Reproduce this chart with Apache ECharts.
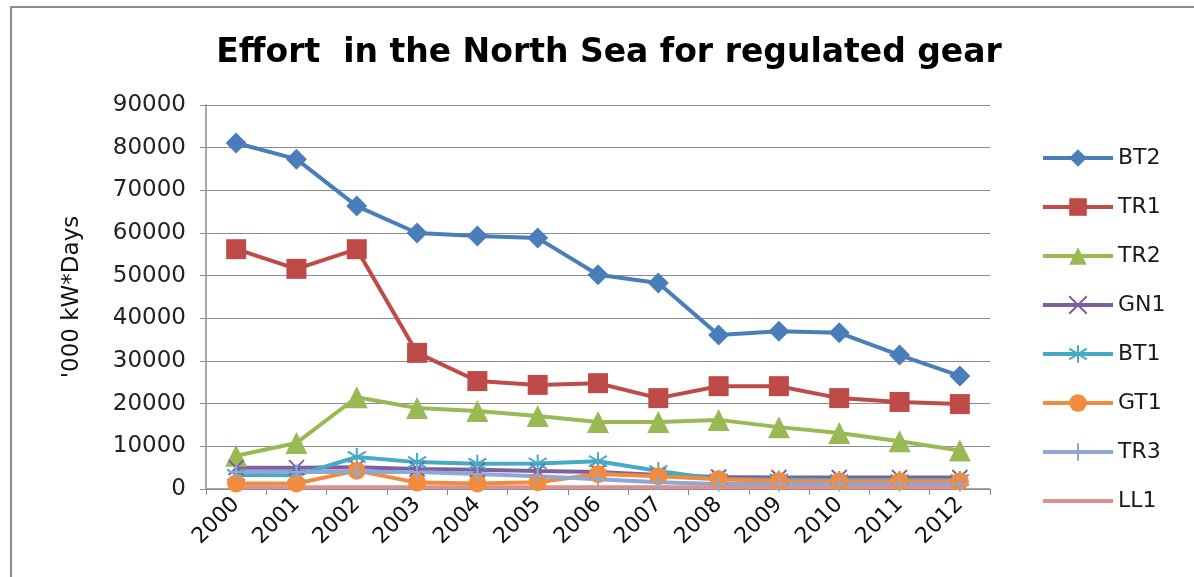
<!DOCTYPE html>
<html>
<head>
<meta charset="utf-8">
<script src="https://cdn.jsdelivr.net/npm/echarts@6/dist/echarts.min.js"></script>
<style>
  html, body { margin: 0; padding: 0; background: #fff; }
  #chart { width: 1194px; height: 577px; }
</style>
</head>
<body>
<div id="chart"></div>
<script>
// Fishing effort by gear group, North Sea ('000 kW*Days)
const years = ['2000','2001','2002','2003','2004','2005','2006','2007','2008','2009','2010','2011','2012'];
const BT2 = [81100, 77300, 66300, 60000, 59300, 58800, 50200, 48300, 36100, 37000, 36600, 31400, 26500];
const TR1 = [56200, 51600, 56200, 31900, 25300, 24400, 24800, 21300, 24100, 24100, 21300, 20400, 19900];
const TR2 = [7800, 10800, 21500, 19000, 18300, 17100, 15700, 15700, 16200, 14500, 13100, 11200, 9000];
const GN1 = [5000, 5000, 5100, 4700, 4500, 4200, 4000, 3300, 2800, 2700, 2700, 2700, 2700];
const BT1 = [3300, 3200, 7500, 6300, 5900, 6000, 6500, 4200, 2300, 2200, 2100, 2100, 2100];
const GT1 = [1300, 1300, 4300, 1500, 1300, 1600, 3500, 3000, 2300, 1900, 1800, 1800, 1800];
const TR3 = [4000, 4000, 4000, 4000, 3500, 3000, 2300, 1600, 1200, 1200, 1200, 1200, 1200];
const LL1 = [400, 400, 400, 400, 400, 400, 400, 400, 400, 400, 400, 400, 400];
const yTicks = { min: 0, max: 90000, interval: 10000 };

const crossPath = 'path://M0,0L10,10M10,0L0,10';
const starPath = 'path://M5,0L5,10M0,2L10,8M10,2L0,8';
const plusPath = 'path://M5,0L5,10M0,5L10,5';

function makeSeries(name, data, color, symbol, size, stroked) {
  const s = {
    name: name,
    type: 'line',
    data: data,
    symbol: symbol,
    symbolSize: size,
    lineStyle: { color: color, width: 4 },
    itemStyle: { color: color },
    emphasis: { disabled: true },
    animation: false
  };
  if (stroked) {
    s.itemStyle = { color: color, borderColor: color, borderWidth: 2 };
  }
  return s;
}

const chart = echarts.init(document.getElementById('chart'), null, { renderer: 'canvas' });
chart.setOption({
  backgroundColor: '#ffffff',
  animation: false,
  title: {
    text: 'Effort  in the North Sea for regulated gear',
    left: 604,
    textAlign: 'center',
    top: 32,
    textStyle: { fontFamily: 'DejaVu Sans', fontWeight: 'bold', fontSize: 33, color: '#000' }
  },
  graphic: [{
    type: 'rect',
    shape: { x: 11, y: 7, width: 1200, height: 600 },
    style: { fill: 'none', stroke: '#8c8c8c', lineWidth: 2 },
    silent: true
  }],
  grid: { left: 206, right: 204, top: 105, bottom: 88 },
  legend: {
    orient: 'vertical',
    left: 1036,
    top: 142,
    itemWidth: 70,
    itemHeight: 22,
    itemGap: 27,
    lineStyle: { width: 4 },
    textStyle: { fontFamily: 'DejaVu Sans', fontSize: 22, color: '#1a1a1a' },
    data: ['BT2','TR1','TR2','GN1','BT1','GT1','TR3', { name: 'LL1', itemStyle: { opacity: 0 } }]
  },
  xAxis: {
    type: 'category',
    data: years,
    boundaryGap: true,
    axisLine: { lineStyle: { color: '#8c8c8c', width: 1.5 } },
    axisTick: { show: true, alignWithLabel: false, length: 6, lineStyle: { color: '#8c8c8c' } },
    axisLabel: { rotate: 45, fontFamily: 'DejaVu Sans', fontSize: 22, color: '#111', margin: 12 }
  },
  yAxis: {
    type: 'value',
    min: yTicks.min,
    max: yTicks.max,
    interval: yTicks.interval,
    name: "'000 kW*Days",
    nameLocation: 'middle',
    nameGap: 122,
    nameRotate: 90,
    nameTextStyle: { fontFamily: 'DejaVu Sans', fontSize: 23, color: '#111' },
    axisLine: { show: true, lineStyle: { color: '#8c8c8c', width: 1.5 } },
    axisTick: { show: true, length: 6, inside: false, lineStyle: { color: '#8c8c8c' } },
    splitLine: { lineStyle: { color: '#8c8c8c', width: 1 } },
    axisLabel: {
      fontFamily: 'DejaVu Sans', fontSize: 23, color: '#222', margin: 20,
      formatter: function (v) { return String(v); }
    }
  },
  series: [
    makeSeries('BT2', BT2, '#4a7ebb', 'diamond', 21, false),
    makeSeries('TR1', TR1, '#be4b48', 'rect', 20, false),
    makeSeries('TR2', TR2, '#98b954', 'triangle', 22, false),
    makeSeries('GN1', GN1, '#7d60a0', crossPath, 15, true),
    makeSeries('BT1', BT1, '#46aac5', starPath, 18, true),
    makeSeries('GT1', GT1, '#f38b3c', 'circle', 18, false),
    makeSeries('TR3', TR3, '#8ea7d4', plusPath, 15, true),
    makeSeries('LL1', LL1, '#d8918f', 'none', 0, false)
  ]
});
</script>
</body>
</html>
